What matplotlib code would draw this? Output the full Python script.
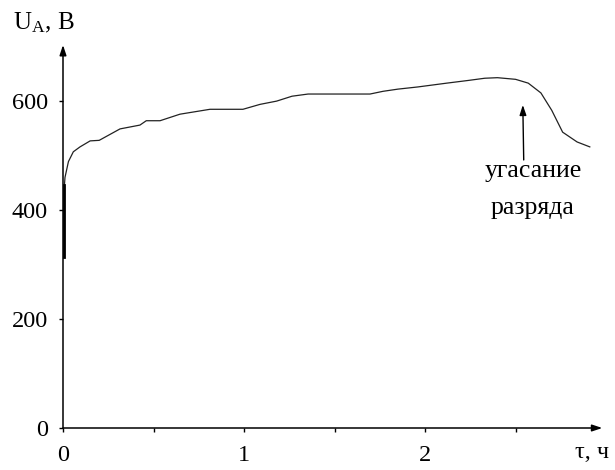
import matplotlib.pyplot as plt

plt.rcParams['font.family'] = ['Liberation Serif', 'DejaVu Serif']
plt.rcParams['mathtext.default'] = 'regular'

# anode voltage vs. time
t = [0.008, 0.008, 0.011, 0.03, 0.057, 0.094, 0.15, 0.20, 0.315, 0.425, 0.46,
     0.536, 0.646, 0.812, 0.994, 1.088, 1.18, 1.265, 1.354, 1.696, 1.768,
     1.85, 1.96, 2.12, 2.24, 2.33, 2.40, 2.50, 2.57, 2.64, 2.70, 2.76, 2.84,
     2.91]
u = [314, 446, 460, 489, 507, 516, 527, 528, 549, 556, 564,
     564, 576, 585, 585, 594, 600, 609, 613, 613, 618,
     622, 626, 633, 638, 642, 643, 640, 633, 615, 583, 543, 525,
     516]

yticks = [0, 200, 400, 600]
xticks = [0, 1, 2]
xminor = [0.5, 1.5, 2.5]

fig = plt.figure(figsize=(6.15, 4.7), dpi=100)
ax = fig.add_axes([63 / 615, 42 / 470, 542 / 615, 383 / 470])
ax.set_xlim(0, 2.994)
ax.set_ylim(0, 703)
for s in ax.spines.values():
    s.set_visible(False)

ax.plot(t, u, color='#222222', lw=0.9)
ax.plot([0.008, 0.008], [314, 446], color='black', lw=2.0)

# axes with arrows
ax.annotate('', xy=(0, 1.0), xytext=(0, 0), xycoords='axes fraction',
            arrowprops=dict(arrowstyle='-|>,head_length=0.6,head_width=0.2',
                            color='black', lw=1.1, shrinkA=0, shrinkB=0))
ax.annotate('', xy=(0.995, 0), xytext=(0, 0), xycoords='axes fraction',
            arrowprops=dict(arrowstyle='-|>,head_length=0.6,head_width=0.2',
                            color='black', lw=1.1, shrinkA=0, shrinkB=0))

ax.set_yticks(yticks)
ax.set_yticklabels([str(v) for v in yticks], fontsize=17.5)
ax.set_xticks(xticks)
ax.set_xticklabels([str(v) for v in xticks], fontsize=17.5)
ax.set_xticks(xminor, minor=True)
ax.tick_params(axis='y', length=3, width=1, pad=8)
ax.tick_params(axis='x', which='both', length=3, width=1, pad=9)

ax.text(-0.092, 1.025, 'U$_A$, В', transform=ax.transAxes, fontsize=18,
        ha='left', va='bottom')
ax.text(2.83, -45, 'τ, ч', fontsize=17.5, ha='left', va='center')

ax.annotate('', xy=(2.54, 593), xytext=(2.545, 492),
            arrowprops=dict(arrowstyle='-|>,head_length=0.6,head_width=0.2',
                            color='black', lw=1.0, shrinkA=0, shrinkB=0))
ax.text(2.595, 472, 'угасание', fontsize=18.5, ha='center', va='center')
ax.text(2.595, 404, 'разряда', fontsize=18.5, ha='center', va='center')

fig.savefig('out.png', dpi=100)
